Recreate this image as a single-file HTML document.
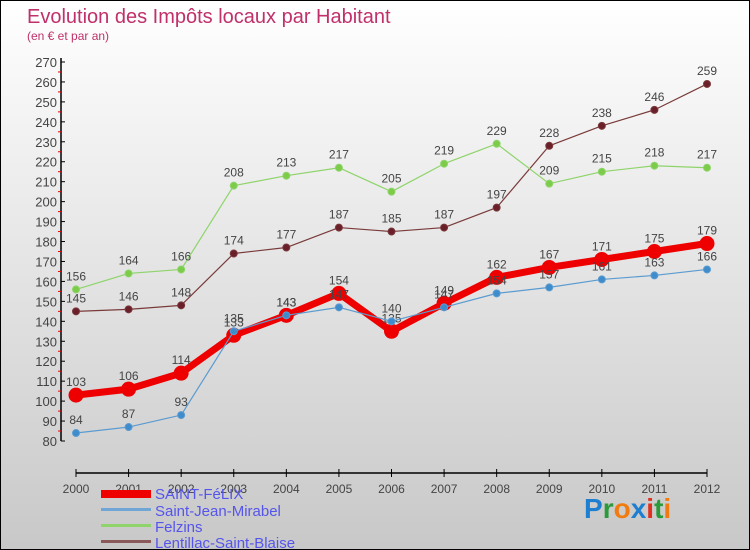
<!DOCTYPE html>
<html><head><meta charset="utf-8"><style>
body{margin:0}
#c{width:750px;height:550px;position:relative;box-sizing:border-box;border:1px solid #000;background:linear-gradient(#fff,#c8c8c8);font-family:"Liberation Sans",sans-serif;overflow:hidden}
</style></head><body>
<div id="c">
<svg id="s" width="750" height="550" style="position:absolute;left:0;top:0">
<text x="26" y="22" font-size="20" fill="#c0306a">Evolution des Impôts locaux par Habitant</text>
<text x="26" y="39" font-size="12" fill="#c0306a">(en € et par an)</text>
<g id="axes"></g><g id="series"></g>
<g font-size="15" fill="#5555ee">
<rect x="100" y="489" width="50" height="8" fill="#e00"/>
<text x="154" y="498">SAINT-FéLIX</text>
<rect x="100" y="507" width="50" height="3" fill="#6fa6d6"/>
<text x="154" y="515">Saint-Jean-Mirabel</text>
<rect x="100" y="523" width="50" height="3" fill="#8ed46a"/>
<text x="154" y="531">Felzins</text>
<rect x="100" y="539" width="50" height="3" fill="#8a5a5a"/>
<text x="154" y="547">Lentillac-Saint-Blaise</text>
</g>
<text x="583" y="517" font-size="28" font-weight="bold"><tspan fill="#1e7fd0">P</tspan><tspan fill="#2a9a3a">r</tspan><tspan fill="#f07c10">o</tspan><tspan fill="#1e7fd0">x</tspan><tspan fill="#e03020">i</tspan><tspan fill="#2a9a3a">t</tspan><tspan fill="#f07c10">i</tspan></text>
</svg></div>
<script>
const years=[2000,2001,2002,2003,2004,2005,2006,2007,2008,2009,2010,2011,2012];
const yTicks=[80,90,100,110,120,130,140,150,160,170,180,190,200,210,220,230,240,250,260,270];
const saintFelix=[103,106,114,133,143,154,135,149,162,167,171,175,179];
const saintJean=[84,87,93,135,143,147,140,147,154,157,161,163,166];
const felzins=[156,164,166,208,213,217,205,219,229,209,215,218,217];
const lentillac=[145,146,148,174,177,187,185,187,197,228,238,246,259];
const NS="http://www.w3.org/2000/svg";
const xs=i=>75+i*(706-75)/(years.length-1);
const ys=v=>440-(v-80)*(440-61)/190;
function mk(t,a,p){const e=document.createElementNS(NS,t);for(const k in a)e.setAttribute(k,a[k]);p.appendChild(e);return e;}
const ax=document.getElementById('axes');
mk('line',{x1:60,y1:57,x2:60,y2:440,stroke:'#000','stroke-width':1.5},ax);
mk('line',{x1:75,y1:472,x2:706,y2:472,stroke:'#000','stroke-width':1.5},ax);
yTicks.forEach((v,i)=>{const y=ys(v);
 mk('line',{x1:60,y1:y,x2:64,y2:y,stroke:'#000'},ax);
 if(i<yTicks.length-1)mk('line',{x1:57,y1:ys(v+5),x2:60,y2:ys(v+5),stroke:'#e00'},ax);
 const t=mk('text',{x:56,y:y+5,'text-anchor':'end','font-size':13,fill:'#444'},ax);t.textContent=v;
 
 });
years.forEach((yr,i)=>{const x=xs(i);
 mk('line',{x1:x,y1:468,x2:x,y2:476,stroke:'#000'},ax);
 const t=mk('text',{x:x,y:492,'text-anchor':'middle','font-size':12,fill:'#444'},ax);t.textContent=yr;
 
 });
const sg=document.getElementById('series');
function draw(vals,col,w,r,name,dot){
 const g=mk('g',{},sg);
 
 
 mk('polyline',{points:vals.map((v,i)=>xs(i)+','+ys(v)).join(' '),fill:'none',stroke:col,'stroke-width':w,'stroke-linejoin':'round'},g);
 vals.forEach((v,i)=>{const c=mk('circle',{cx:xs(i),cy:ys(v),r:r,fill:dot,stroke:col,'stroke-width':1},g);
  
  
  const t=mk('text',{x:xs(i),y:ys(v)-9,'text-anchor':'middle','font-size':12,fill:'#444'},g);t.textContent=v;
  
  });
}
draw(lentillac,'#7a3a3a',1.2,3.5,'lentillac','#6a1f2a');
draw(felzins,'#8ed46a',1.2,3.5,'felzins','#7ccc4a');
draw(saintFelix,'#e00',7,7,'saint-felix','#e00');
draw(saintJean,'#5b9bd0',1.2,3.5,'saint-jean','#3f8ccc');
</script></body></html>
